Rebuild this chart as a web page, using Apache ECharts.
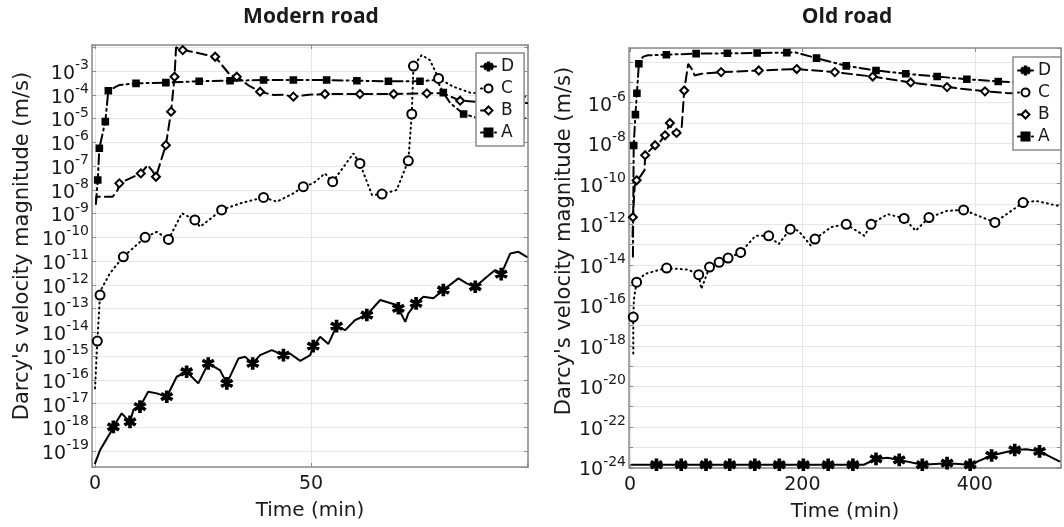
<!DOCTYPE html>
<html>
<head>
<meta charset="utf-8">
<script src="https://cdn.jsdelivr.net/npm/echarts@6/dist/echarts.min.js"></script>
<style>
  html, body { margin: 0; padding: 0; background: #fff; }
  #chart { width: 1064px; height: 527px; }
</style>
</head>
<body>
<div id="chart"></div>
<script>
// Values are log10 of Darcy's velocity magnitude (m/s).
// [time (min), log10 v]. *Marks = indices of points that carry a marker.

// ---- Modern road ----
const modernA = [[0.2,-8.6],[0.63,-7.59],[1.0,-6.25],[2.38,-5.13],[3.08,-3.83],[4.86,-3.66],[5.63,-3.59],
  [9.49,-3.52],[16.4,-3.49],[24.1,-3.43],[31.25,-3.41],[39.0,-3.38],[45.9,-3.38],[53.6,-3.38],[60.6,-3.41],
  [67.9,-3.43],[75.2,-3.43],[79.1,-3.38],[80.6,-3.91],[82.2,-4.35],[85.3,-4.81],[88.0,-4.95],[100,-4.98]];
const modernAMarks = [1,2,3,4,7,8,9,10,11,12,13,14,15,16,18,20];

const modernB = [[0.2,-8.56],[0.3,-8.29],[4.1,-8.29],[5.25,-8.01],[5.63,-7.73],[10.6,-7.31],[12.2,-6.96],
  [13.4,-7.24],[14.1,-7.45],[16.4,-6.12],[17.6,-4.71],[18.4,-3.24],[18.75,-2.0],[20.3,-2.12],[23.5,-2.23],
  [27.8,-2.40],[31.25,-3.17],[32.8,-3.24],[35.5,-3.6],[38.2,-3.87],[41.3,-4.01],[43.5,-4.0],[45.9,-4.08],
  [49.5,-4.0],[53.2,-3.97],[61.3,-3.97],[69.1,-3.97],[76.8,-3.94],[80.6,-3.94],[84.5,-4.25],[88.0,-4.29],[100,-4.35]];
const modernBMarks = [4,5,8,9,10,11,13,15,17,19,22,24,25,26,27,29];

const modernC = [[0,-16.36],[0.53,-14.37],[1.16,-12.43],[1.55,-12.15],[3.5,-11.5],[6.55,-10.82],[11.6,-10.0],
  [14.3,-9.77],[17.0,-10.09],[20.1,-8.99],[23.1,-9.27],[24.3,-9.56],[29.3,-8.85],[33.6,-8.57],[39.0,-8.32],
  [42.1,-8.50],[45.9,-8.15],[48.2,-7.87],[50.5,-7.73],[53.2,-7.31],[55.0,-7.66],[59.8,-6.47],[61.3,-6.89],
  [64.1,-8.22],[66.4,-8.18],[69.8,-8.01],[72.5,-6.78],[73.3,-4.81],[73.7,-2.79],[75.6,-2.33],[77.5,-2.54],
  [79.5,-3.31],[82.9,-3.66],[86.8,-3.91],[100,-4.09]];
const modernCMarks = [1,2,5,6,8,10,12,14,17,20,22,24,26,27,28,31];

const modernD = [[0,-19.52],[1.16,-18.96],[3.47,-18.25],[4.24,-17.98],[6.18,-17.41],[6.94,-17.56],[8.1,-17.77],
  [8.87,-17.27],[10.4,-17.13],[12.3,-16.50],[14.3,-16.57],[16.6,-16.71],[18.9,-15.87],[21.2,-15.66],[23.9,-16.15],
  [26.2,-15.31],[28.9,-15.59],[30.5,-16.15],[33.2,-15.10],[34.7,-15.03],[36.5,-15.31],[38.2,-14.96],[40.9,-14.75],
  [43.6,-14.96],[45.1,-14.89],[47.5,-15.20],[49.8,-14.96],[50.5,-14.58],[52.1,-14.19],[54.0,-14.49],[55.9,-13.74],
  [57.9,-13.91],[60.2,-13.48],[62.9,-13.27],[66.0,-12.64],[69.8,-12.85],[70.2,-12.99],[71.8,-13.56],[72.5,-13.20],
  [74.3,-12.78],[76.0,-12.50],[78.3,-12.57],[80.6,-12.22],[84.1,-11.73],[86.0,-11.94],[88.0,-12.08],[90.7,-11.66],
  [92.6,-11.38],[94.0,-11.55],[96.1,-10.68],[98.0,-10.61],[99.9,-10.82]];
const modernDMarks = [3,6,8,11,13,15,17,20,23,27,30,33,36,39,42,45,48];

// ---- Old road ----
const oldA = [[3.4,-13.6],[4.3,-8.11],[6.3,-6.59],[8.0,-5.53],[10.3,-4.08],[14.9,-3.74],[20.7,-3.66],
  [42.2,-3.63],[76.7,-3.58],[113,-3.56],[147.5,-3.55],[182,-3.53],[192,-3.52],[216.4,-3.80],[250.9,-4.18],
  [285.4,-4.41],[319.9,-4.57],[356.3,-4.71],[390.8,-4.84],[427.2,-4.95],[461.6,-5.03],[500,-5.12]];
const oldAMarks = [1,2,3,4,7,8,9,10,11,13,14,15,16,17,18,19,20];

const oldB = [[3.0,-12.6],[3.4,-11.65],[5.4,-10.14],[7.7,-9.83],[11.8,-9.65],[16.9,-9.33],[17.6,-8.59],
  [23.3,-8.34],[29.1,-8.10],[34.8,-7.93],[40.6,-7.61],[46.3,-7.0],[50.6,-7.57],[54.0,-7.49],[59.8,-7.33],
  [62.9,-5.40],[67.5,-4.08],[69.3,-4.0],[72.4,-4.38],[75.1,-4.66],[82.8,-4.57],[105.7,-4.49],[149.4,-4.41],
  [193.4,-4.34],[237.6,-4.49],[281.6,-4.71],[325.6,-5.0],[367.8,-5.23],[411.8,-5.44],[436.8,-5.52],[500,-5.66]];
const oldBMarks = [1,3,6,8,10,11,13,15,21,22,23,24,25,26,27,28];

const oldC = [[3.8,-18.38],[3.8,-16.58],[4.6,-15.68],[7.7,-14.86],[17.2,-14.45],[42.5,-14.16],[67.5,-14.24],
  [79.7,-14.49],[82.8,-15.19],[92.3,-14.11],[103.4,-13.88],[113.8,-13.67],[128.4,-13.39],[145.6,-12.57],
  [160.9,-12.57],[172.4,-12.98],[185.9,-12.24],[195.4,-12.32],[210,-13.06],[214.6,-12.73],[233.3,-12.14],
  [250.9,-12.0],[272,-12.57],[279.7,-12.0],[298.9,-11.50],[318,-11.71],[331.4,-12.32],[346.8,-11.67],
  [367.8,-11.34],[387,-11.29],[423.3,-11.91],[456,-10.93],[471.3,-10.85],[500,-11.12]];
const oldCMarks = [1,3,5,7,9,10,11,12,14,16,19,21,23,25,27,29,30,31];

const oldD = [[2,-23.87],[30.7,-23.87],[59.4,-23.87],[88.2,-23.87],[115.7,-23.87],[144.8,-23.87],[173.2,-23.87],
  [201.1,-23.87],[229.9,-23.87],[258.6,-23.87],[271.3,-23.87],[285.4,-23.58],[298.9,-23.52],[312.3,-23.63],
  [339.1,-23.87],[367.8,-23.79],[394.6,-23.87],[419.5,-23.41],[446.3,-23.14],[459.8,-23.10],[475.1,-23.21],[498.1,-23.70]];
const oldDMarks = [1,2,3,4,5,6,7,8,9,11,13,14,15,16,17,18,20];

// tick labels
const modernTimeTicks = [0, 50];
const oldTimeTicks = [0, 200, 400];
const modernExpTicks = [-19,-18,-17,-16,-15,-14,-13,-12,-11,-10,-9,-8,-7,-6,-5,-4,-3];
const oldExpTicks = [-24,-22,-20,-18,-16,-14,-12,-10,-8,-6];
const legendNames = ['D', 'C', 'B', 'A'];

const FONT = 'DejaVu Sans';
const AXIS = '#8c8c8c';
const star = 'path://M-0.9,-5L0.9,-5L0.9,5L-0.9,5Z M3.88,-3.28L4.78,-1.72L-3.88,3.28L-4.78,1.72Z M4.78,1.72L3.88,3.28L-4.78,-1.72L-3.88,-3.28Z';

const looks = {
  A: { symbol: 'rect', symbolSize: 6, dash: [10, 4, 2, 4] },
  B: { symbol: 'emptyDiamond', symbolSize: 8, dash: [10, 5] },
  C: { symbol: 'emptyCircle', symbolSize: 9, dash: [1, 4] },
  D: { symbol: star, symbolSize: 11, dash: 'solid' }
};

function curve(name, pts, marks, axisIdx) {
  const lk = looks[name];
  return {
    name, type: 'line', xAxisIndex: axisIdx, yAxisIndex: axisIdx,
    symbol: lk.symbol, symbolSize: lk.symbolSize, showSymbol: true, showAllSymbol: true,
    lineStyle: { color: '#000', width: 2, type: lk.dash, cap: 'round' },
    itemStyle: { color: '#000', borderColor: '#000', borderWidth: 1.6 },
    animation: false,
    data: pts.map((p, i) => marks.includes(i) ? { value: p } : { value: p, symbol: 'none' })
  };
}

function isInt(v) { return Math.abs(v - Math.round(v)) < 1e-6; }

function xAxes(grid, min, max, step, ticks, nameGap) {
  const common = {
    type: 'value', gridIndex: grid, min, max, minInterval: step, maxInterval: step, splitNumber: 3,
    axisLine: { onZero: false, lineStyle: { color: AXIS, width: 1.5 } },
    axisTick: { inside: true, length: 4, lineStyle: { color: AXIS } }
  };
  return [
    Object.assign({}, common, {
      position: 'bottom',
      splitLine: { show: true, lineStyle: { color: '#e6e6e6', width: 1 } },
      axisLabel: {
        margin: 8, fontFamily: FONT, fontSize: 19, color: '#1a1a1a',
        formatter: v => (isInt(v) && ticks.includes(Math.round(v))) ? String(Math.round(v)) : ''
      },
      name: 'Time (min)', nameLocation: 'middle', nameGap,
      nameTextStyle: { fontFamily: FONT, fontSize: 20, color: '#1a1a1a' }
    }),
    Object.assign({}, common, { position: 'top', splitLine: { show: false }, axisLabel: { show: false } })
  ];
}

function yAxes(grid, min, max, ticks, nameGap, shift) {
  const common = {
    type: 'value', gridIndex: grid, min, max, minInterval: 1, maxInterval: 1, splitNumber: 20,
    axisLine: { onZero: false, lineStyle: { color: AXIS, width: 1.5 } },
    axisTick: { inside: true, length: 4, lineStyle: { color: AXIS } }
  };
  return [
    Object.assign({}, common, {
      position: 'left',
      splitLine: { show: true, lineStyle: { color: '#e6e6e6', width: 1 } },
      axisLabel: {
        margin: 3,
        formatter: v => (isInt(v) && ticks.includes(Math.round(v))) ? '{b|10}{s|' + Math.round(v) + '}' : '',
        rich: {
          b: { fontFamily: FONT, fontSize: 19, color: '#1a1a1a', lineHeight: 25, verticalAlign: 'bottom' },
          s: { fontFamily: FONT, fontSize: 14, color: '#1a1a1a', lineHeight: 25, verticalAlign: 'top' }
        }
      },
      name: "Darcy's velocity magnitude (m/s)", nameLocation: 'middle', nameGap,
      nameTextStyle: { fontFamily: FONT, fontSize: 21, color: '#1a1a1a', padding: [0, 0, 0, shift] }
    }),
    Object.assign({}, common, { position: 'right', splitLine: { show: false }, axisLabel: { show: false } })
  ];
}

function legend(left, top) {
  return {
    orient: 'vertical', left, top, data: legendNames,
    itemWidth: 15, itemHeight: 10, itemGap: 5,
    padding: [5, 10, 5, 4],
    backgroundColor: '#fff', borderColor: '#8c8c8c', borderWidth: 1.5, borderRadius: 0,
    textStyle: { fontFamily: FONT, fontSize: 17, color: '#1a1a1a', lineHeight: 16 },
    selectedMode: false
  };
}

const chart = echarts.init(document.getElementById('chart'), null, { renderer: 'canvas' });
chart.setOption({
  backgroundColor: '#fff',
  animation: false,
  title: [
    { text: 'Modern road', left: 311, top: 7, textAlign: 'center', padding: 0,
      textStyle: { fontFamily: 'Open Sans', fontWeight: 'bold', fontSize: 21, color: '#1a1a1a' } },
    { text: 'Old road', left: 847, top: 7, textAlign: 'center', padding: 0,
      textStyle: { fontFamily: 'Open Sans', fontWeight: 'bold', fontSize: 21, color: '#1a1a1a' } }
  ],
  grid: [
    { left: 92, top: 45, width: 436, height: 422, containLabel: false },
    { left: 629, top: 48, width: 436, height: 422, containLabel: false }
  ],
  xAxis: [].concat(
    xAxes(0, -0.7, 100.2, 50, modernTimeTicks, 34),
    xAxes(1, -1.15, 500, 200, oldTimeTicks, 34)
  ),
  yAxis: [].concat(
    yAxes(0, -19.67, -1.905, modernExpTicks, 59, 20),
    yAxes(1, -24.03, -3.3, oldExpTicks, 53, 34)
  ),
  legend: [legend(476, 53), legend(1013, 57)],
  series: [
    curve('D', modernD, modernDMarks, 0),
    curve('C', modernC, modernCMarks, 0),
    curve('B', modernB, modernBMarks, 0),
    curve('A', modernA, modernAMarks, 0),
    curve('D', oldD, oldDMarks, 2),
    curve('C', oldC, oldCMarks, 2),
    curve('B', oldB, oldBMarks, 2),
    curve('A', oldA, oldAMarks, 2)
  ]
});
</script>
</body>
</html>
